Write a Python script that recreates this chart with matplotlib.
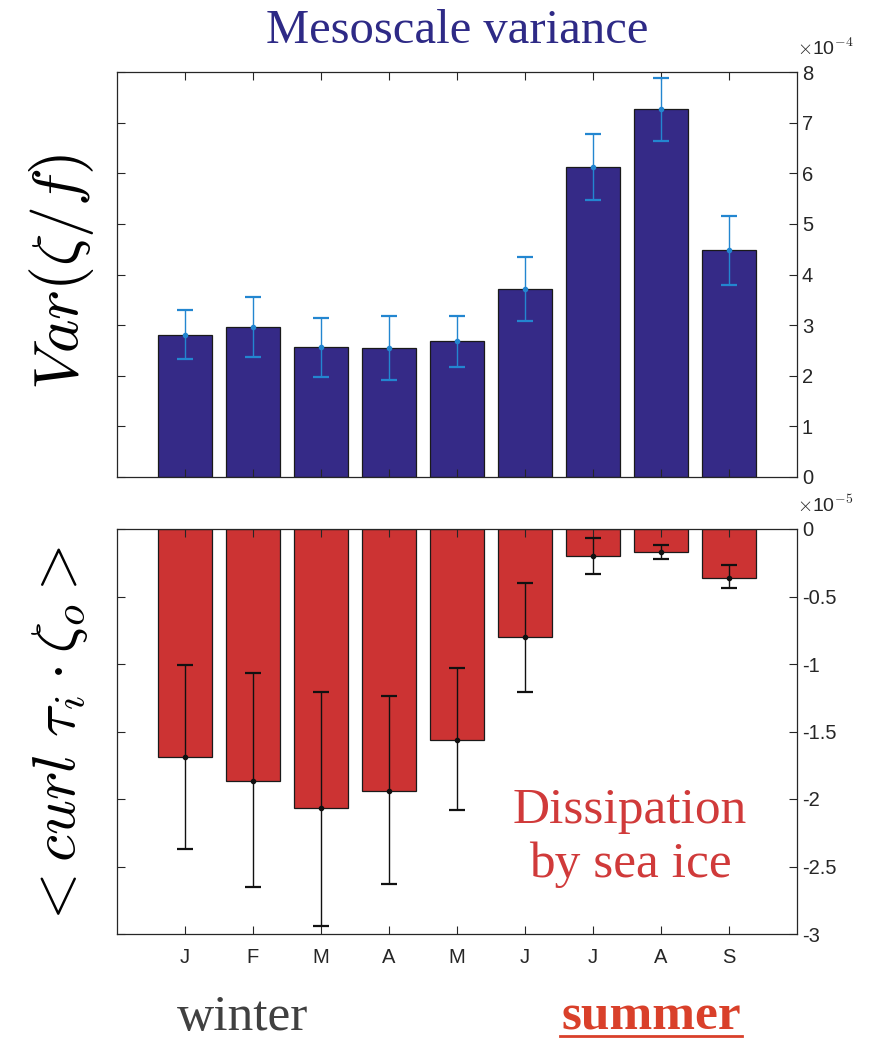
import matplotlib
matplotlib.use("Agg")
import matplotlib.pyplot as plt
import numpy as np

plt.rcParams['mathtext.fontset'] = 'cm'

months = ['J', 'F', 'M', 'A', 'M', 'J', 'J', 'A', 'S']

# Variance of zeta/f, units of 1e-4
var_mean = [2.81, 2.97, 2.56, 2.55, 2.68, 3.71, 6.12, 7.27, 4.48]
var_low = [2.33, 2.38, 1.98, 1.92, 2.18, 3.08, 5.47, 6.64, 3.79]
var_high = [3.29, 3.56, 3.14, 3.19, 3.19, 4.35, 6.77, 7.88, 5.16]
var_exp = -4

# <curl tau_i . zeta_o>, units of 1e-5
diss_mean = [-1.69, -1.87, -2.07, -1.94, -1.56, -0.80, -0.20, -0.17, -0.36]
diss_low = [-2.37, -2.65, -2.94, -2.63, -2.08, -1.21, -0.33, -0.22, -0.44]
diss_high = [-1.01, -1.07, -1.21, -1.24, -1.03, -0.40, -0.07, -0.12, -0.27]
diss_exp = -5

var_ticks = [0, 1, 2, 3, 4, 5, 6, 7, 8]
diss_ticks = [-3, -2.5, -2, -1.5, -1, -0.5, 0]
diss_ticklabels = ['-3', '-2.5', '-2', '-1.5', '-1', '-0.5', '0']

W, H = 883, 1043
fig = plt.figure(figsize=(W / 100, H / 100), dpi=100)

ax1 = fig.add_axes([117 / W, 1 - 477 / H, 680 / W, 405 / H])
ax2 = fig.add_axes([117 / W, 1 - 934 / H, 680 / W, 405 / H])

x = np.arange(1, len(months) + 1)
tick_col = '#262626'
sans = 'Liberation Sans'
serif = 'Liberation Serif'


def style(ax):
    for s in ax.spines.values():
        s.set_color(tick_col)
        s.set_linewidth(0.9)
    ax.tick_params(direction='in', length=6, width=0.8, color=tick_col,
                   labelcolor=tick_col, labelsize=14.5,
                   top=True, bottom=True, left=True, right=True,
                   labelleft=False, labelright=True)
    ax.set_xlim(0, 10)
    ax.set_xticks(x)


# Upper panel: mesoscale variance
vm = np.array(var_mean)
ax1.bar(x, vm, width=0.8, color='#352a87', edgecolor='#1a1a1a', linewidth=0.9, zorder=1)
ax1.errorbar(x, vm, yerr=[vm - np.array(var_low), np.array(var_high) - vm],
             fmt='o', ms=3, color='#2386d0', ecolor='#2386d0', elinewidth=1.0,
             capsize=6, capthick=1.6, zorder=3)
ax1.set_ylim(0, 8)
ax1.set_yticks(var_ticks)
style(ax1)
ax1.set_xticklabels([])
ax1.set_yticklabels([str(t) for t in var_ticks], fontfamily=sans)

# Lower panel: dissipation by sea ice
dm = np.array(diss_mean)
ax2.bar(x, dm, width=0.8, color='#cc3333', edgecolor='#1a1a1a', linewidth=0.9, zorder=1)
ax2.errorbar(x, dm, yerr=[dm - np.array(diss_low), np.array(diss_high) - dm],
             fmt='o', ms=3, color='#111111', ecolor='#111111', elinewidth=1.0,
             capsize=6, capthick=1.6, zorder=3)
ax2.set_ylim(-3, 0)
ax2.set_yticks(diss_ticks)
style(ax2)
ax2.set_xticklabels(months, fontfamily=sans)
ax2.set_yticklabels(diss_ticklabels, fontfamily=sans)
ax2.tick_params(axis='x', pad=10)

# Exponent multipliers
fig.text(797 / W, 1 - 48 / H, r'$\times$10$^{%d}$' % var_exp, fontsize=14,
         color=tick_col, fontfamily=sans, ha='left', va='center')
fig.text(797 / W, 1 - 505 / H, r'$\times$10$^{%d}$' % diss_exp, fontsize=14,
         color=tick_col, fontfamily=sans, ha='left', va='center')

# Titles and annotations
fig.text(457 / W, 1 - 31 / H, 'Mesoscale variance', fontsize=35, color='#2e2a86',
         fontfamily=serif, ha='center', va='center')
fig.text(62 / W, 1 - 272 / H, r'$Var(\zeta/f)$', fontsize=46, color='black',
         rotation=90, ha='center', va='center')
fig.text(60 / W, 1 - 738 / H, r'$<curl\ \tau_i \cdot \zeta_o>$', fontsize=44,
         color='black', rotation=90, ha='center', va='center')
fig.text(630 / W, 1 - 838 / H, 'Dissipation\nby sea ice', fontsize=37,
         color='#d03a3a', fontfamily=serif, ha='center', va='center',
         linespacing=1.2)
fig.text(243 / W, 1 - 1030 / H, 'winter', fontsize=37, color='#404040',
         fontfamily=serif, ha='center', va='baseline')
fig.text(651 / W, 1 - 1030 / H, 'summer', fontsize=37, color='#d9402a',
         fontfamily=serif, fontweight='bold', ha='center', va='baseline')
fig.add_artist(plt.Line2D([560 / W, 742 / W], [1 - 1036 / H, 1 - 1036 / H],
                          color='#d9402a', lw=2))

fig.savefig('out.png', dpi=100)
